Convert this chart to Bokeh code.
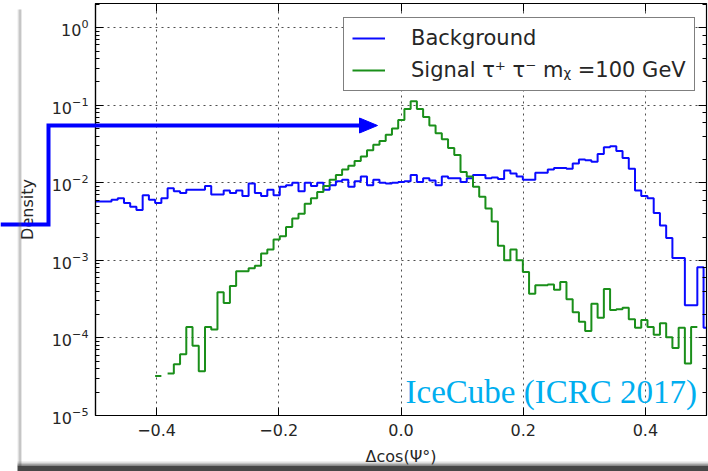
import numpy as np
from bokeh.plotting import figure
from bokeh.models import (Range1d, FixedTicker, LogAxis, LinearAxis, LogTicker, Legend,
                          LegendItem, Label, ColumnDataSource, CustomJSTickFormatter)
from bokeh.core.properties import value
from bokeh.embed import file_html
from bokeh.resources import INLINE

# Histogram binning in delta cos(Psi)
BIN_START = -0.5044
BIN_WIDTH = 0.0102

# log10(density) per bin, background sample
BACKGROUND_LOG10 = [
    -2.24, -2.24, -2.24, -2.22, -2.20, -2.26, -2.31, -2.35, -2.16, -2.22,
    -2.26, -2.20, -2.07, -2.11, -2.13, -2.09, -2.09, -2.09, -2.04, -2.15,
    -2.15, -2.10, -2.13, -2.10, -2.17, -2.01, -2.13, -2.17, -2.09, -2.16,
    -2.05, -2.03, -2.00, -2.11, -2.00, -2.04, -2.00, -2.09, -2.03, -1.98,
    -1.96, -2.05, -1.98, -1.92, -2.03, -1.96, -2.00, -2.01, -2.00, -1.99,
    -1.98, -1.90, -1.99, -1.94, -1.97, -2.03, -1.92, -1.94, -1.94, -1.99,
    -1.94, -1.90, -1.90, -1.94, -1.93, -1.95, -1.84, -1.88, -1.92, -1.96,
    -1.96, -1.87, -1.87, -1.83, -1.81, -1.81, -1.82, -1.75, -1.70, -1.71,
    -1.73, -1.63, -1.54, -1.53, -1.59, -1.68, -1.82, -2.10, -2.17, -2.20,
    -2.39, -2.55, -2.71, -2.97, -2.97, -3.58, -3.58, -3.09, -3.87,
]

# log10(density) per bin, signal tau+ tau-, m_chi = 100 GeV (None = empty bin)
SIGNAL_LOG10 = [
    None, None, None, None, None, None, None, None, None, None,
    -4.49, None, -4.46, -4.34, -4.21, -3.86, -4.10, -4.43, -3.86, -3.89,
    -3.41, -3.55, -3.33, -3.14, -3.14, -3.10, -3.07, -2.91, -2.86, -2.73,
    -2.69, -2.57, -2.46, -2.40, -2.27, -2.20, -2.12, -2.04, -1.96, -1.90,
    -1.83, -1.78, -1.72, -1.66, -1.58, -1.51, -1.46, -1.38, -1.30, -1.19,
    -1.05, -0.95, -1.05, -1.15, -1.26, -1.36, -1.44, -1.55, -1.64, -1.86,
    -1.92, -2.05, -2.18, -2.33, -2.50, -2.81, -3.00, -2.86, -3.00, -3.15,
    -3.43, -3.32, -3.32, -3.31, -3.38, -3.28, -3.50, -3.67, -3.79, -3.91,
    -3.56, -3.74, -3.37, -3.64, -3.63, -3.61, -3.76, -3.87, -3.77, -3.86,
    -3.96, -3.81, -3.99, -4.13, -3.87, -4.33, -3.86, None, None,
]

X_TICKS = [-0.4, -0.2, 0.0, 0.2, 0.4]
SERIES_NAMES = ["Background", "Signal \u03c4\u207a \u03c4\u207b m\u1d6a =100 GeV"]
SERIES_COLORS = ["#0a0aff", "#1a8f1a"]

W, H = 708, 471
TEXT_COLOR = "#262626"
ARROW_BLUE = "#0000ff"


def step_path(log_values):
    """Outline of a step histogram; empty bins break the line."""
    xs, ys = [], []
    for i, v in enumerate(log_values):
        left = BIN_START + i * BIN_WIDTH
        right = left + BIN_WIDTH
        d = np.nan if v is None else 10.0 ** v
        xs += [left, right]
        ys += [d, d]
    return xs, ys


p = figure(width=W, height=H, x_range=Range1d(-0.5, 0.5), y_range=Range1d(1e-5, 2.05),
           y_axis_type="log", output_backend="svg", toolbar_location=None,
           min_border_left=95, min_border_right=2, min_border_top=3, min_border_bottom=56,
           background_fill_color="white", border_fill_color="white")

p.outline_line_color = "black"
p.outline_line_width = 1.2

# grid: dotted, matplotlib-classic look
p.xgrid.ticker = FixedTicker(ticks=X_TICKS)
p.grid.grid_line_color = "#222222"
p.grid.grid_line_dash = "2 4"
p.grid.grid_line_width = 1
p.grid.grid_line_alpha = 0.8

xax = p.xaxis[0]
xax.ticker = FixedTicker(ticks=X_TICKS, minor_ticks=[])
xax.major_label_overrides = {t: f"{t:.1f}".replace("-", "\u2212") for t in X_TICKS}
xax.axis_label = "\u0394cos(\u03a8\u00b0)"
yax = p.yaxis[0]
yax.axis_label = "Density"

for ax in (xax, yax):
    ax.axis_line_color = "black"
    ax.axis_line_width = 1.2
    ax.major_tick_in = 8
    ax.major_tick_out = 0
    ax.minor_tick_in = 4
    ax.minor_tick_out = 0
    ax.major_tick_line_color = "black"
    ax.minor_tick_line_color = "black"
    ax.major_label_text_font = "DejaVu Sans"
    ax.major_label_text_font_size = "16px"
    ax.major_label_text_color = TEXT_COLOR
    ax.axis_label_text_font = "DejaVu Sans"
    ax.axis_label_text_font_size = "16px"
    ax.axis_label_text_font_style = "normal"
    ax.axis_label_text_color = TEXT_COLOR
xax.major_label_standoff = 8
xax.axis_label_standoff = 8
yax.major_label_standoff = 7
yax.axis_label_standoff = 12

# tick-only axes on the top and right edges
blank = CustomJSTickFormatter(code="return ''")
top_ax = LinearAxis(ticker=FixedTicker(ticks=X_TICKS, minor_ticks=[]), formatter=blank)
right_ax = LogAxis(ticker=LogTicker(), formatter=blank)
for ax in (top_ax, right_ax):
    ax.axis_line_color = "black"
    ax.major_tick_in = 8
    ax.major_tick_out = 0
    ax.minor_tick_in = 4
    ax.minor_tick_out = 0
    ax.major_label_text_font_size = "1px"
    ax.major_label_standoff = 0
p.add_layout(top_ax, "above")
p.add_layout(right_ax, "right")

renderers = []
for vals, color in zip([BACKGROUND_LOG10, SIGNAL_LOG10], SERIES_COLORS):
    xs, ys = step_path(vals)
    src = ColumnDataSource(data=dict(x=xs, y=ys))
    renderers.append(p.line("x", "y", source=src, line_color=color, line_width=2))

legend = Legend(items=[LegendItem(label=value(n), renderers=[r]) for n, r in zip(SERIES_NAMES, renderers)],
                location=(248, 324))
legend.label_text_font = "DejaVu Sans"
legend.label_text_font_size = "21px"
legend.label_text_color = TEXT_COLOR
legend.glyph_width = 33
legend.glyph_height = 24
legend.label_height = 24
legend.label_standoff = 26
legend.spacing = 8
legend.padding = 8
legend.border_line_color = "black"
legend.border_line_width = 1.5
legend.background_fill_alpha = 1.0
p.add_layout(legend)

p.add_layout(Label(x=310, y=24, x_units="screen", y_units="screen", text="IceCube (ICRC 2017)",
                   text_font="Liberation Serif", text_font_size="33px", text_color="#00aeef",
                   text_baseline="alphabetic"))

# Transparent full-page layer on top: pointer arrow and the page shadow, in pixels from top-left
overlay = figure(width=W, height=H, x_range=Range1d(0, W), y_range=Range1d(H, 0),
                 output_backend="svg", toolbar_location=None, min_border=0,
                 x_axis_location=None, y_axis_location=None,
                 background_fill_alpha=0, border_fill_alpha=0, outline_line_color=None)
overlay.grid.visible = False
overlay.line([0, 48, 48, 362], [224, 224, 125, 125], line_color=ARROW_BLUE, line_width=4,
             line_join="miter")
overlay.patch([359, 377, 359], [117.5, 125, 132.5], fill_color=ARROW_BLUE, line_color=ARROW_BLUE)

for x, a in [(17.5, 0.12), (18.5, 0.28), (19.5, 0.45), (20.5, 0.3)]:
    overlay.line([x, x], [9, 466], line_color="#555555", line_alpha=a, line_width=1)
for top, bottom, a in [(461, 463, 0.15), (463, 465, 0.45), (465, H, 0.9)]:
    overlay.quad(left=17, right=W, top=top, bottom=bottom, fill_color="#333333", fill_alpha=a,
                 line_color=None)
overlay.styles = {"position": "absolute", "top": "0px", "left": "0px"}

open("out.html", "w").write(file_html([p, overlay], INLINE))
